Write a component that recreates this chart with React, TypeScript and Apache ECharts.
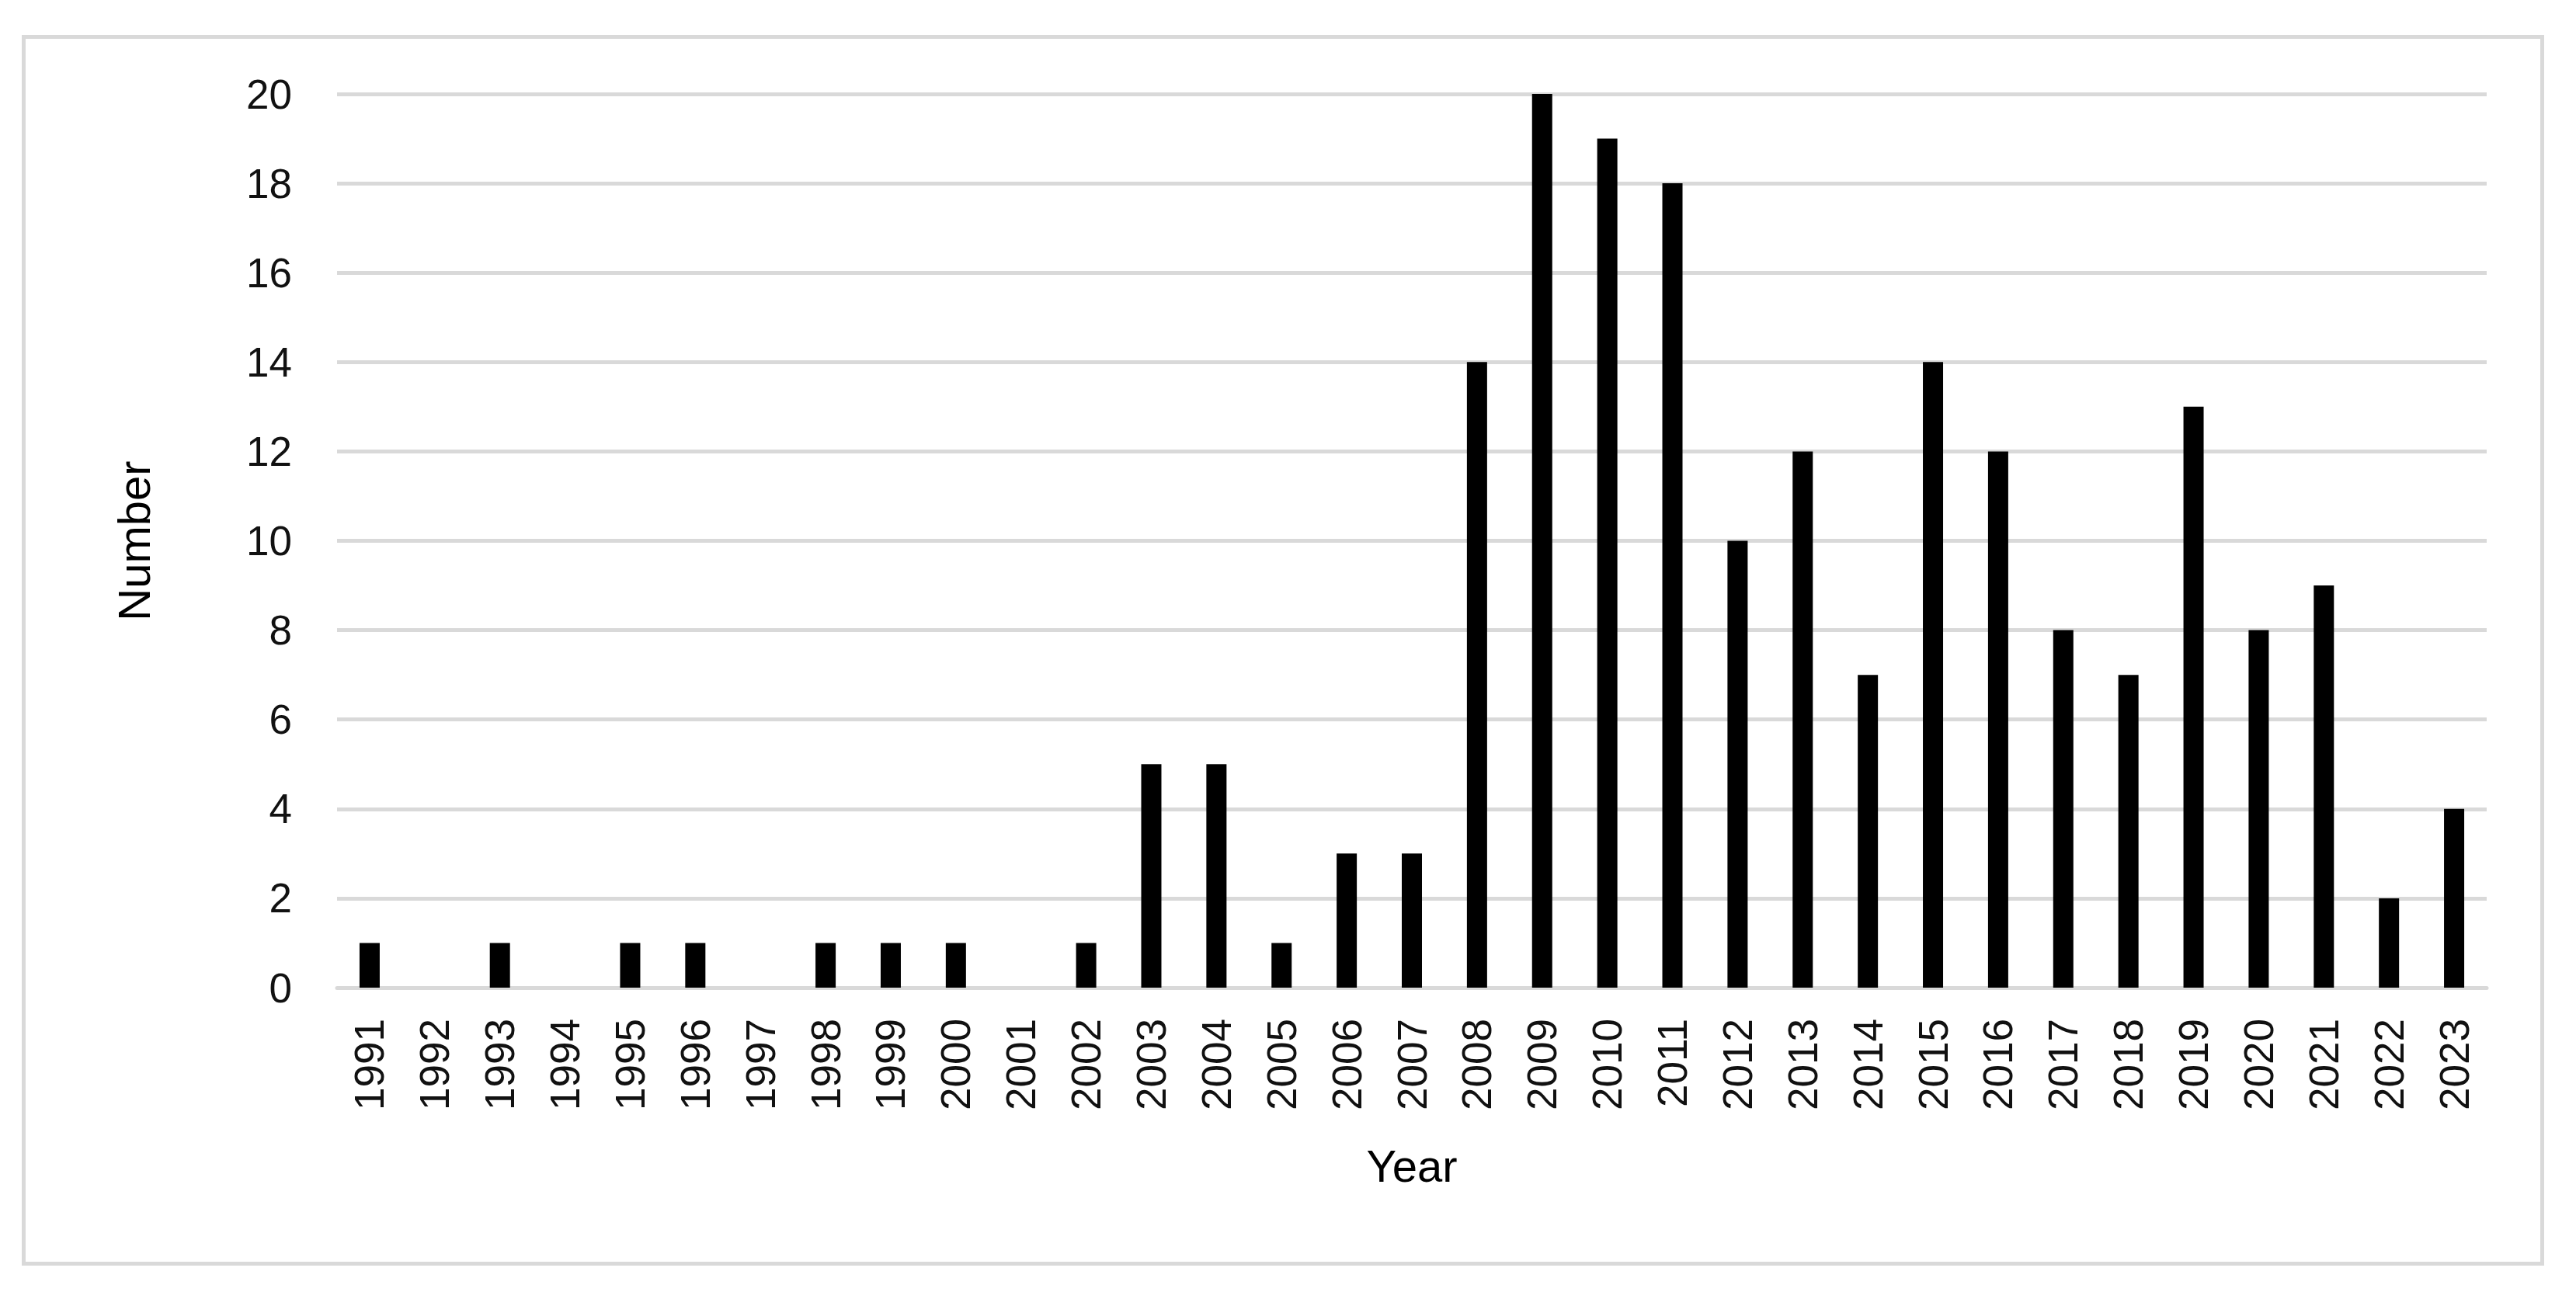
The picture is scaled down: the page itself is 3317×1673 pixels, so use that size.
import React, { useEffect, useRef } from "react";
import * as echarts from "echarts";

const years: string[] = [
  "1991","1992","1993","1994","1995","1996","1997","1998","1999","2000",
  "2001","2002","2003","2004","2005","2006","2007","2008","2009","2010",
  "2011","2012","2013","2014","2015","2016","2017","2018","2019","2020",
  "2021","2022","2023",
];
const counts: number[] = [
  1, 0, 1, 0, 1, 1, 0, 1, 1, 1,
  0, 1, 5, 5, 1, 3, 3, 14, 20, 19,
  18, 10, 12, 7, 14, 12, 8, 7, 13, 8,
  9, 2, 4,
];
const yMin = 0;
const yMax = 20;
const yStep = 2;
const xTitle = "Year";
const yTitle = "Number";

const FONT = "'Liberation Sans', Arial, sans-serif";

export default function App() {
  const ref = useRef<HTMLDivElement>(null);
  useEffect(() => {
    document.body.style.margin = "0";
    if (!ref.current) return;
    const chart = echarts.init(ref.current, undefined, { renderer: "svg" });
    chart.setOption({
      animation: false,
      backgroundColor: "#ffffff",
      graphic: [
        {
          type: "rect",
          shape: { x: 30.5, y: 47.5, width: 3243, height: 1580 },
          style: { fill: "none", stroke: "#d9d9d9", lineWidth: 5 },
          silent: true,
        },
      ],
      grid: { left: 434, right: 115, top: 121, bottom: 401, containLabel: false },
      xAxis: {
        type: "category",
        data: years,
        name: xTitle,
        nameLocation: "middle",
        nameGap: 200,
        nameTextStyle: { fontFamily: FONT, fontSize: 58, color: "#000000" },
        axisLine: { lineStyle: { color: "#d9d9d9", width: 5 } },
        axisTick: { show: false },
        axisLabel: {
          rotate: 90,
          margin: 40,
          interval: 0,
          fontFamily: FONT,
          fontSize: 53,
          color: "#111111",
        },
      },
      yAxis: {
        type: "value",
        min: yMin,
        max: yMax,
        interval: yStep,
        name: yTitle,
        nameLocation: "middle",
        nameGap: 233,
        nameTextStyle: { fontFamily: FONT, fontSize: 58, color: "#000000" },
        axisLine: { show: false },
        axisTick: { show: false },
        axisLabel: { margin: 58, fontFamily: FONT, fontSize: 53, color: "#111111" },
        splitLine: { lineStyle: { color: "#d9d9d9", width: 5 } },
      },
      series: [
        {
          type: "bar",
          data: counts,
          barWidth: "31%",
          itemStyle: { color: "#000000" },
        },
      ],
    });
    return () => chart.dispose();
  }, []);
  return <div ref={ref} style={{ width: 3317, height: 1673 }} />;
}
